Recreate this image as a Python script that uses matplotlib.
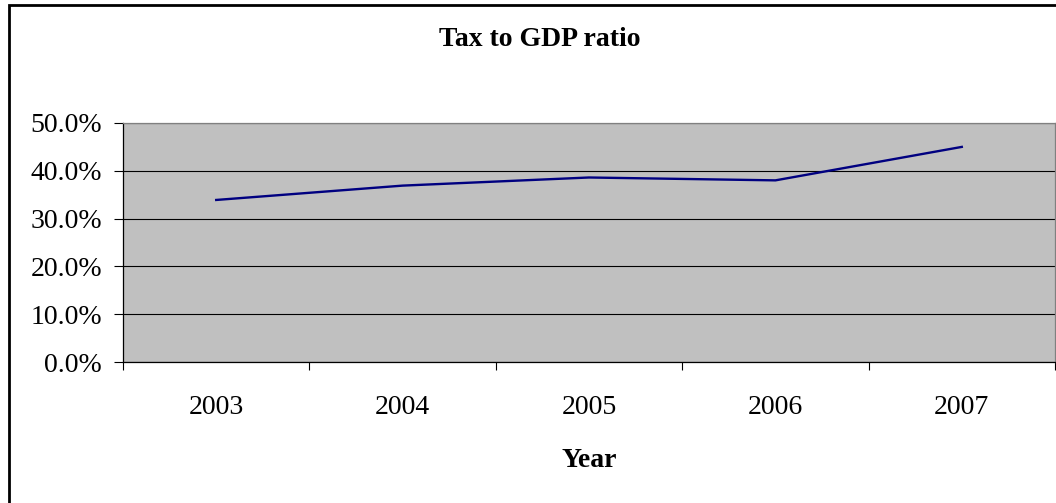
import matplotlib
matplotlib.use("Agg")
import matplotlib.pyplot as plt
from matplotlib.patches import Rectangle
from matplotlib.ticker import FuncFormatter, FixedLocator

plt.rcParams['font.family'] = ['Liberation Serif', 'DejaVu Serif']

# --- data ---
years = ['2003', '2004', '2005', '2006', '2007']
tax_gdp = [33.9, 36.9, 38.6, 38.0, 45.0]   # percent
y_ticks = [0, 10, 20, 30, 40, 50]

fig = plt.figure(figsize=(10.56, 5.03), dpi=100)

# outer chart border (runs off the right/bottom edge)
fig.patches.append(Rectangle((9 / 1056, -0.1), 1.2, 1 - 5 / 503 + 0.1,
                             transform=fig.transFigure, fill=False,
                             edgecolor='black', linewidth=2.0, zorder=0))

ax = fig.add_axes([123 / 1056, 1 - 362 / 503, 932 / 1056, 239 / 503])
ax.set_facecolor('#C0C0C0')

x = list(range(len(years)))
ax.plot(x, tax_gdp, color='#000080', linewidth=1.7, zorder=3)

ax.set_xlim(-0.5, len(years) - 0.5)
ax.set_ylim(0, 50)

# gridlines
ax.yaxis.set_major_locator(FixedLocator(y_ticks))
ax.grid(axis='y', color='black', linewidth=0.8, zorder=1)
ax.set_axisbelow(True)
ax.yaxis.set_major_formatter(FuncFormatter(lambda v, p: f'{v:.1f}%'))
ax.tick_params(axis='y', direction='out', length=6.5, width=0.8,
               pad=8.5, labelsize=20, colors='black')

# category labels centered, tick marks between categories
ax.set_xticks(x)
ax.set_xticklabels(years)
ax.set_xticks([i - 0.5 for i in range(len(years) + 1)], minor=True)
ax.tick_params(axis='x', which='major', length=0, pad=24, labelsize=20)
ax.tick_params(axis='x', which='minor', direction='out', length=6,
               width=0.8, color='black')

for side in ['left', 'bottom']:
    ax.spines[side].set_color('black')
    ax.spines[side].set_linewidth(0.9)
for side in ['top', 'right']:
    ax.spines[side].set_color('#808080')
    ax.spines[side].set_linewidth(0.9)

ax.set_xlabel('Year', fontsize=20, fontweight='bold', labelpad=20)
fig.text(540 / 1056, 1 - 40 / 503, 'Tax to GDP ratio', fontsize=20,
         fontweight='bold', ha='center', va='center')

fig.savefig('out.png', dpi=100)
